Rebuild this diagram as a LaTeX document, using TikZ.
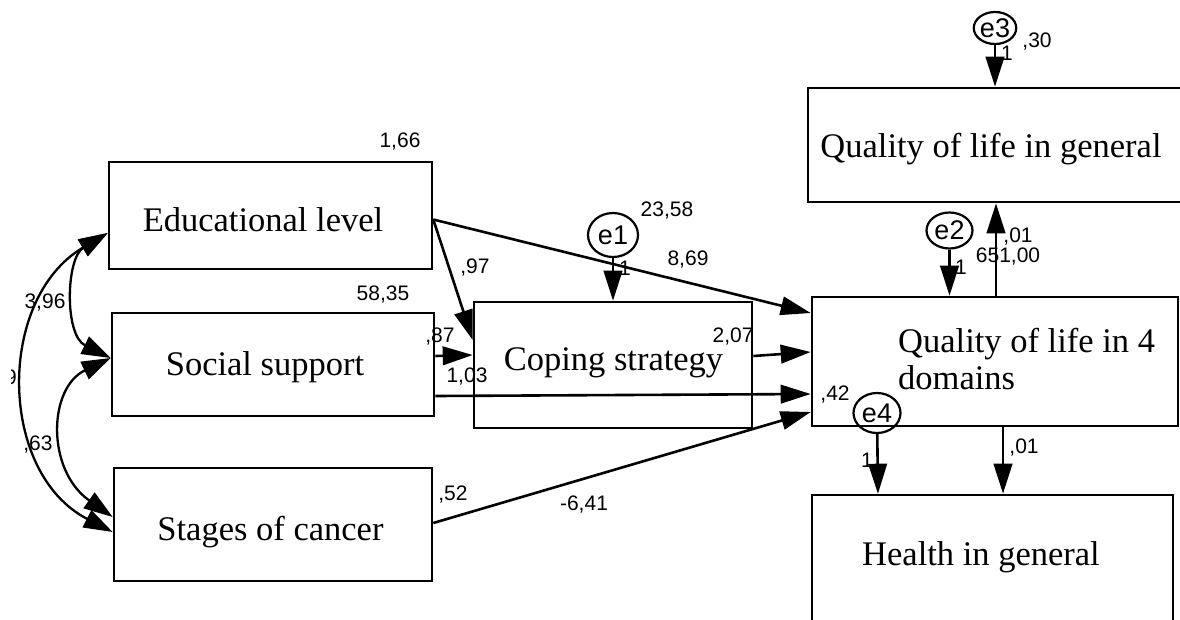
\documentclass[tikz,border=0pt]{standalone}
\usepackage{fontspec}
\setmainfont{Liberation Serif}
\newfontfamily\numfont{Liberation Sans}
\usetikzlibrary{arrows.meta,shapes.geometric}
\begin{document}
\begin{tikzpicture}[x=1pt,y=-1pt,
  box/.style={draw,line width=2.6pt,rectangle,inner sep=0pt},
  boxtext/.style={inner sep=0pt,anchor=base,font=\fontsize{34.5}{40}\selectfont},
  err/.style={draw,ellipse,line width=2.2pt,inner sep=0pt,font=\numfont\fontsize{27}{30}\selectfont},
  arr/.style={line width=2.6pt,-{Triangle[length=30pt,width=18.5pt]}},
  cov/.style={line width=2.3pt,{Triangle[length=29pt,width=19pt]}-{Triangle[length=29pt,width=19pt]}},
  num/.style={font=\numfont\fontsize{21}{24}\selectfont,inner sep=0pt}]
\useasboundingbox (0,0) rectangle (1180,619);

% boxes
\node[box,minimum width=323pt,minimum height=107pt] (edu) at (270.5,215.5) {};
\node[boxtext] (edut) at (263,231) {Educational level};
\node[box,minimum width=322pt,minimum height=103pt] (soc) at (273,364.5) {};
\node[boxtext] (soct) at (265,375) {Social support};
\node[box,minimum width=318pt,minimum height=113pt] (stg) at (273,524.5) {};
\node[boxtext] (stgt) at (270.5,540) {Stages of cancer};
\node[box,minimum width=278pt,minimum height=126pt] (cop) at (613,365) {};
\node[boxtext] (copt) at (613.5,370) {Coping strategy};
\node[box,minimum width=366pt,minimum height=129pt] (q4) at (995,361.5) {};
\node[boxtext,anchor=base west] (q4ta) at (898,352) {Quality of life in 4};
\node[boxtext,anchor=base west] (q4tb) at (898,389) {domains};
\node[box,minimum width=382pt,minimum height=114pt] (qg) at (999,145) {};
\node[boxtext] (qgt) at (991,157) {Quality of life in general};
\node[box,minimum width=361pt,minimum height=145pt] (hg) at (992.5,567.5) {};
\node[boxtext] (hgt) at (981,565) {Health in general};

% error terms
\node[err,minimum width=50pt,minimum height=44pt] (e1) at (613,235) {e1};
\node[err,minimum width=46pt,minimum height=36pt] (e2) at (949.5,230.5) {e2};
\node[err,minimum width=42pt,minimum height=32pt] (e3) at (995,28) {e3};
\node[err,minimum width=47pt,minimum height=40pt] (e4) at (877,413) {e4};

% covariances
\draw[cov] ([yshift=-17.5pt]edu.west) .. controls (-4,299) and (-2,473) .. ([yshift=-7.5pt]stg.west);
\draw[cov] ([yshift=-17.5pt]edu.west) .. controls (66,258) and (64,335) .. ([yshift=6.5pt]soc.west);
\draw[cov] ([yshift=6.5pt]soc.west) .. controls (48,388) and (46,470) .. ([yshift=7.5pt]stg.west);

% regressions
\draw[arr] ([yshift=-4pt]edu.east) -- ([yshift=25pt]cop.west);
\draw[arr] ([yshift=-4pt]edu.east) -- ([yshift=48.5pt]q4.west);
\draw[arr] ([yshift=8.5pt]soc.east) -- ([yshift=10pt]cop.west);
\draw[arr] ([yshift=-31.5pt]soc.east) -- ([yshift=-32.5pt]q4.west);
\draw[arr] ([yshift=9pt]cop.east) -- ([yshift=9.5pt]q4.west);
\draw[arr] ([yshift=1.5pt]stg.east) -- ([yshift=-50.5pt]q4.west);
\draw[arr] (e1) -- (cop.north);
\draw[arr] (e2) -- ([xshift=-45.5pt]q4.north);
\draw[arr] ([xshift=1pt]q4.north) -- ([xshift=-3pt]qg.south);
\draw[arr] (e3) -- ([xshift=-4pt]qg.north);
\draw[arr] (e4) -- ([xshift=-114.5pt]hg.north);
\draw[arr] ([xshift=8pt]q4.south) -- ([xshift=10.5pt]hg.north);

% numbers
\node[num] (l1) at (400,142) {1,66};
\node[num] (l2) at (383,295) {58,35};
\node[num] (l3) at (667,211) {23,58};
\node[num] (l4) at (475,268) {,97};
\node[num] (l5) at (625,268) {1};
\node[num] (l6) at (688,260) {8,69};
\node[num] (l7) at (440,337) {,87};
\node[num] (l8) at (467,377) {1,03};
\node[num] (l9) at (733,337) {2,07};
\node[num] (l10) at (835,395) {,42};
\node[num] (l11) at (453,495) {,52};
\node[num] (l12) at (584,505) {-6,41};
\node[num] (l13) at (867,460) {1};
\node[num] (l14) at (1024,448) {,01};
\node[num] (l15) at (1007,53) {1};
\node[num] (l16) at (1037,42) {,30};
\node[num] (l17) at (961,267) {1};
\node[num] (l18) at (1018,237) {,01};
\node[num] (l19) at (1008,257) {651,00};
\node[num] (l20) at (45,303) {3,96};
\node[num] (l21) at (38,445) {,63};
\begin{scope}
\clip (11,360) rectangle (20,395);
\node[num,anchor=east] (l22) at (17,377) {9};
\end{scope}
\end{tikzpicture}
\end{document}
